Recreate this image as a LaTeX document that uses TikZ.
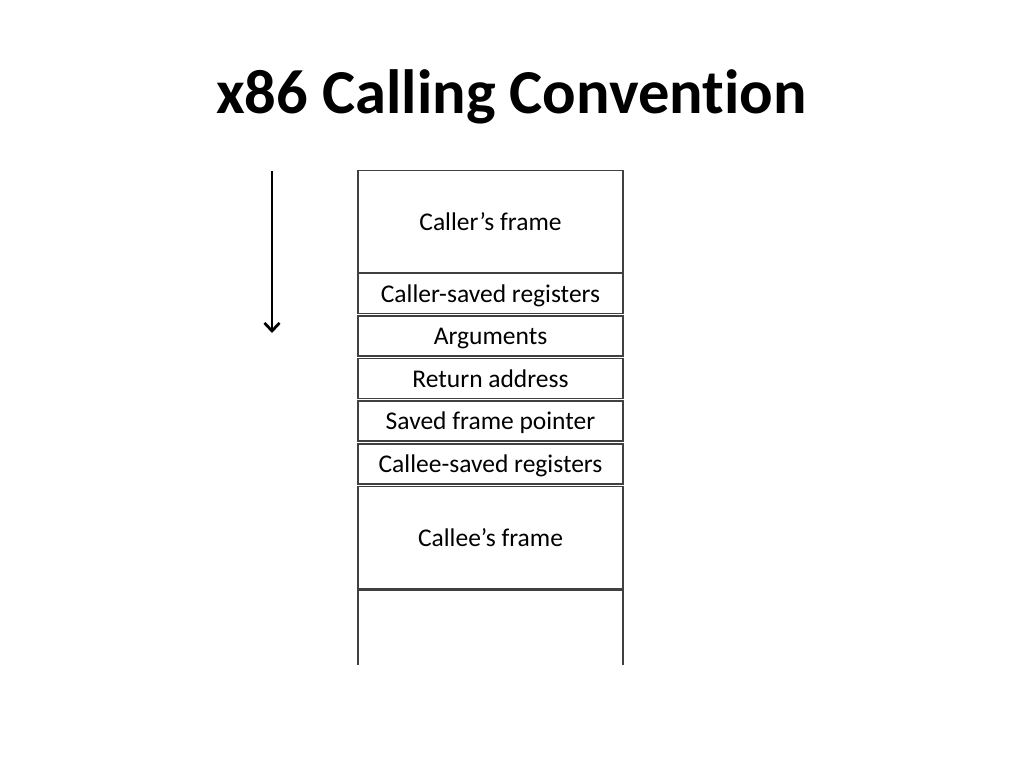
\documentclass[tikz,border=0pt]{standalone}
\usepackage{fontspec}
\setmainfont{Carlito}[Ligatures=NoCommon]
\usetikzlibrary{arrows.meta}

\tikzset{
    frame/.style={draw=black!75, line width=1.6pt, fill=white, minimum width=265pt, inner sep=0pt, text height=17pt, text depth=0pt, font=\fontsize{25.5}{30}\selectfont},
    slot/.style={frame, minimum height=40pt},
    bigslot/.style={frame, minimum height=102pt},
}

\begin{document}
\begin{tikzpicture}[x=1pt, y=-1pt]
        \useasboundingbox (0, 0) rectangle (1024, 768);

        \node[font=\fontsize{62.5}{72}\selectfont\bfseries] (title) at (511.5, 97) {x86 Calling Convention};

        \node[bigslot] (caller) at (490.5, 221.5) {Caller’s frame};
        \node[slot] (callersaved) at (490.5, 293.5) {Caller-saved registers};
        \node[slot] (args) at (490.5, 336) {Arguments};
        \node[slot] (ret) at (490.5, 378.5) {Return address};
        \node[slot] (fp) at (490.5, 421) {Saved frame pointer};
        \node[slot] (calleesaved) at (490.5, 464) {Callee-saved registers};
        \node[bigslot] (callee) at (490.5, 537.5) {Callee’s frame};
        \node[minimum width=265pt, minimum height=75pt, inner sep=0pt] (rest) at (490.5, 627.5) {};

        \draw[draw=black!75, line width=1.6pt] (rest.south west) -- (rest.north west) -- (rest.north east) -- (rest.south east);

        \coordinate (top) at (272, 171);
        \coordinate (bottom) at (272, 333);
        \draw[line width=2.8pt, -{Straight Barb[length=8pt, width=15pt]}] (top) -- (bottom);

    \end{tikzpicture}
\end{document}
